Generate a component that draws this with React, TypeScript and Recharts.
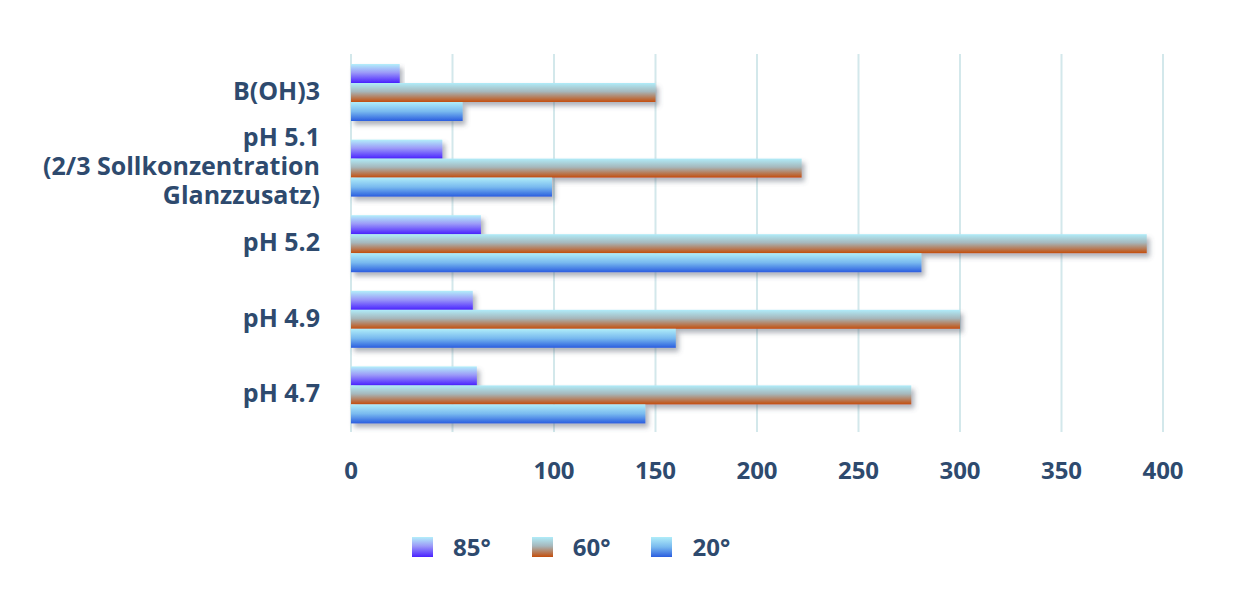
import React from 'react';
import { BarChart, Bar, XAxis, YAxis, CartesianGrid, Legend } from 'recharts';

const categories = [
  'B(OH)3',
  'pH 5.1\n(2/3 Sollkonzentration\nGlanzzusatz)',
  'pH 5.2',
  'pH 4.9',
  'pH 4.7',
];
const values85 = [24, 45, 64, 60, 62];
const values60 = [150, 222, 392, 300, 276];
const values20 = [55, 99, 281, 160, 145];
const xTicks = [0, 50, 100, 150, 200, 250, 300, 350, 400];
const hiddenTickLabels = [50];
const seriesNames = ['85°', '60°', '20°'];
const seriesKeys = ['s85', 's60', 's20'];

const data = categories.map((c, i) => ({
  category: c,
  s85: values85[i],
  s60: values60[i],
  s20: values20[i],
}));

const TEXT = '#2E4A6E';
const FONT = "'Open Sans', 'DejaVu Sans', sans-serif";

const CategoryTick = (props: any) => {
  const { x, y, payload } = props;
  const lines = String(payload.value).split('\n');
  const lh = 29;
  return (
    <text x={x} y={y} textAnchor="end" fill={TEXT} fontSize={25} fontWeight={700} fontFamily={FONT}>
      {lines.map((l, i) => (
        <tspan key={i} x={x} dy={i === 0 ? -((lines.length - 1) / 2) * lh + 8 : lh}>
          {l}
        </tspan>
      ))}
    </text>
  );
};

const shadowShape = (gradId: string) => (props: any) => {
  const { x, y, width, height } = props;
  if (!width || width <= 0) return <g />;
  return (
    <rect x={x} y={y} width={width} height={height} fill={`url(#${gradId})`} filter="url(#barShadow)" />
  );
};

const LegendContent = (props: any) => {
  const payload = [...(props.payload || [])].sort(
    (a: any, b: any) => seriesKeys.indexOf(a.dataKey) - seriesKeys.indexOf(b.dataKey)
  );
  return (
    <div style={{ display: 'flex', alignItems: 'center', height: 30, fontFamily: FONT }}>
      {payload.map((p: any, i: number) => (
        <div key={i} style={{ display: 'flex', alignItems: 'center', marginRight: 41 }}>
          <svg width={21} height={20} style={{ display: 'block' }}>
            <rect x={0} y={0} width={21} height={20} fill={`url(#grad${p.dataKey})`} />
          </svg>
          <span style={{ marginLeft: 20, color: TEXT, fontSize: 24, fontWeight: 700, lineHeight: '30px' }}>
            {p.value}
          </span>
        </div>
      ))}
    </div>
  );
};

export default function App() {
  return (
    <div style={{ width: 1226, height: 576 }}>
      <BarChart
        width={1226}
        height={576}
        data={data}
        layout="vertical"
        margin={{ top: 46, right: 71, bottom: 62, left: 0 }}
        barCategoryGap={10}
        barGap={0}
      >
        <defs>
          <linearGradient id="grads85" x1="0" y1="0" x2="0" y2="1">
            <stop offset="0" stopColor="#b3effa" />
            <stop offset="0.45" stopColor="#9c9af8" />
            <stop offset="1" stopColor="#4a22ff" />
          </linearGradient>
          <linearGradient id="grads60" x1="0" y1="0" x2="0" y2="1">
            <stop offset="0" stopColor="#b0ecf9" />
            <stop offset="0.45" stopColor="#a6b7bb" />
            <stop offset="1" stopColor="#c44e0c" />
          </linearGradient>
          <linearGradient id="grads20" x1="0" y1="0" x2="0" y2="1">
            <stop offset="0" stopColor="#b0edf9" />
            <stop offset="0.5" stopColor="#78b9ef" />
            <stop offset="1" stopColor="#2a5ddf" />
          </linearGradient>
          <filter id="barShadow" x="-5%" y="-40%" width="115%" height="200%">
            <feDropShadow dx="3" dy="4" stdDeviation="2.5" floodColor="#505868" floodOpacity="0.45" />
          </filter>
        </defs>
        <CartesianGrid horizontal={false} vertical stroke="#d3e8eb" strokeWidth={2} />
        <XAxis
          type="number"
          domain={[0, 400]}
          ticks={xTicks}
          interval={0}
          axisLine={false}
          tickLine={false}
          tickSize={0}
          tickMargin={30}
          height={60}
          tickFormatter={(v: number) => (hiddenTickLabels.includes(v) ? '' : String(v))}
          tick={{ fill: TEXT, fontSize: 24, fontWeight: 700, fontFamily: FONT }}
        />
        <YAxis
          type="category"
          dataKey="category"
          width={343}
          axisLine={false}
          tickLine={false}
          tickSize={0}
          tickMargin={31}
          interval={0}
          tick={<CategoryTick />}
        />
        <Legend
          verticalAlign="bottom"
          content={<LegendContent />}
          wrapperStyle={{ top: 524, left: 404, bottom: 'auto', width: 500, height: 30 }}
        />
        <Bar dataKey="s85" name={seriesNames[0]} isAnimationActive={false} shape={shadowShape('grads85')} />
        <Bar dataKey="s60" name={seriesNames[1]} isAnimationActive={false} shape={shadowShape('grads60')} />
        <Bar dataKey="s20" name={seriesNames[2]} isAnimationActive={false} shape={shadowShape('grads20')} />
      </BarChart>
    </div>
  );
}
